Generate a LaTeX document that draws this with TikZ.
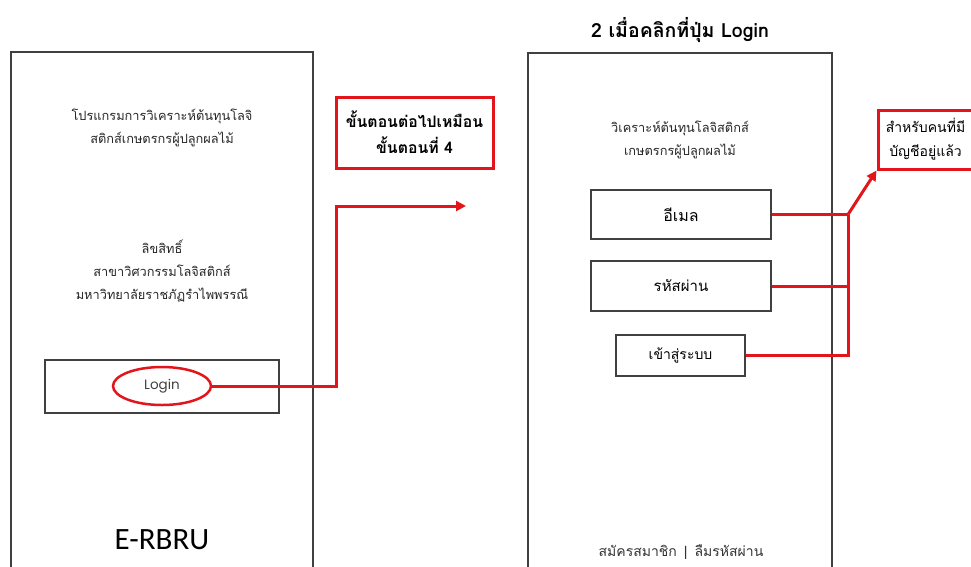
\documentclass[tikz,border=0pt]{standalone}
\usepackage{fontspec}
\setmainfont[Script=Thai]{Loma}
\newfontfamily\latinsans{Carlito}
\newfontfamily\gothic{Poppins}
\usepackage{tikz}
\usetikzlibrary{positioning}
\usetikzlibrary{arrows.meta}
\usetikzlibrary{shapes.geometric}
\definecolor{frameline}{HTML}{404040}
\definecolor{markred}{HTML}{E3151B}
\tikzset{
    phone/.style={draw=frameline, line width=1.3pt}, % 手机屏幕外框
    field/.style={draw=frameline, line width=1.3pt, inner sep=0pt, font=\fontsize{14}{16}\selectfont}, % 输入框
    caption/.style={align=center, text=black!85, font=\fontsize{12.8}{23}\selectfont}, % 说明文字
    link/.style={draw=markred, line width=3pt}, % 红色连线
    callout/.style={draw=markred, line width=3pt, align=center, inner sep=0pt} % 红色提示框
}

\begin{document}
\begin{tikzpicture}[x=1pt, y=-1pt]

          \useasboundingbox (0,0) rectangle (971,566);

          % 两个屏幕
          \draw[phone] (11,570) |- (313,52) -- (313,570);
          \draw[phone] (528,570) |- (832,53) -- (832,570);

          % 左侧屏幕
          \node[caption] (appname) at (162,128) {โปรแกรมการวิเคราะห์ต้นทุนโลจิ\\สติกส์เกษตรกรผู้ปลูกผลไม้};
          \node[caption] (rights) at (162,271) {ลิขสิทธิ์\\สาขาวิศวกรรมโลจิสติกส์\\มหาวิทยาลัยราชภัฏรำไพพรรณี};
          \node[field, minimum width=234pt, minimum height=53pt] (loginbtn) at (162,386.5) {};
          \node[ellipse, draw=markred, line width=2.5pt, minimum width=98pt, minimum height=38pt, inner sep=0pt,
                text=black!75, font=\gothic\fontsize{13.5}{15}\selectfont] (loginmark) at (162,386) {Login};
          \node[font=\latinsans\fontsize{31}{34}\selectfont] (brand) at (162,540) {E-RBRU};

          % 中间提示
          \node[callout, minimum width=157pt, minimum height=71pt, font=\bfseries\fontsize{15.8}{26}\selectfont]
                (nextstep) at (414.5,132.5) {ขั้นตอนต่อไปเหมือน\\ขั้นตอนที่ 4};
          \coordinate (hop) at (336,206);
          \coordinate (goal) at (466,206);
          \draw[link, -{Triangle[length=10pt, width=10pt]}] (loginmark.east) -| (hop) -- (goal);

          % 右侧屏幕
          \node[font=\bfseries\fontsize{19.5}{22}\selectfont] (title) at (680,30) {2 เมื่อคลิกที่ปุ่ม Login};
          \node[caption] (appshort) at (680,139.5) {วิเคราะห์ต้นทุนโลจิสติกส์\\เกษตรกรผู้ปลูกผลไม้};
          \node[field, minimum width=180pt, minimum height=49pt, font=\fontsize{16}{18}\selectfont] (email) at (681,214.5) {อีเมล};
          \node[field, minimum width=180pt, minimum height=50pt, font=\fontsize{15}{18}\selectfont] (passwd) at (681,286) {รหัสผ่าน};
          \node[field, minimum width=129pt, minimum height=41pt] (enter) at (680.5,355.5) {เข้าสู่ระบบ};
          \node[text=black!80, font=\fontsize{14}{16}\selectfont] (signup) at (681,552) {สมัครสมาชิก \,|\, ลืมรหัสผ่าน};

          % 已有账户的说明
          \node[callout, minimum width=95pt, minimum height=59pt, font=\fontsize{14}{24}\selectfont]
                (account) at (925.5,139.5) {สำหรับคนที่มี\\บัญชีอยู่แล้ว};
          \coordinate (trunk) at (848,0);
          \draw[link] (email.east) -- (email.east -| trunk);
          \draw[link] (passwd.east) -- (passwd.east -| trunk);
          \draw[link] (enter.east) -| (email.east -| trunk);
          \draw[link, -{Triangle[length=10pt, width=10pt]}] (email.east -| trunk) -- (account.south west);

      \end{tikzpicture}
\end{document}
